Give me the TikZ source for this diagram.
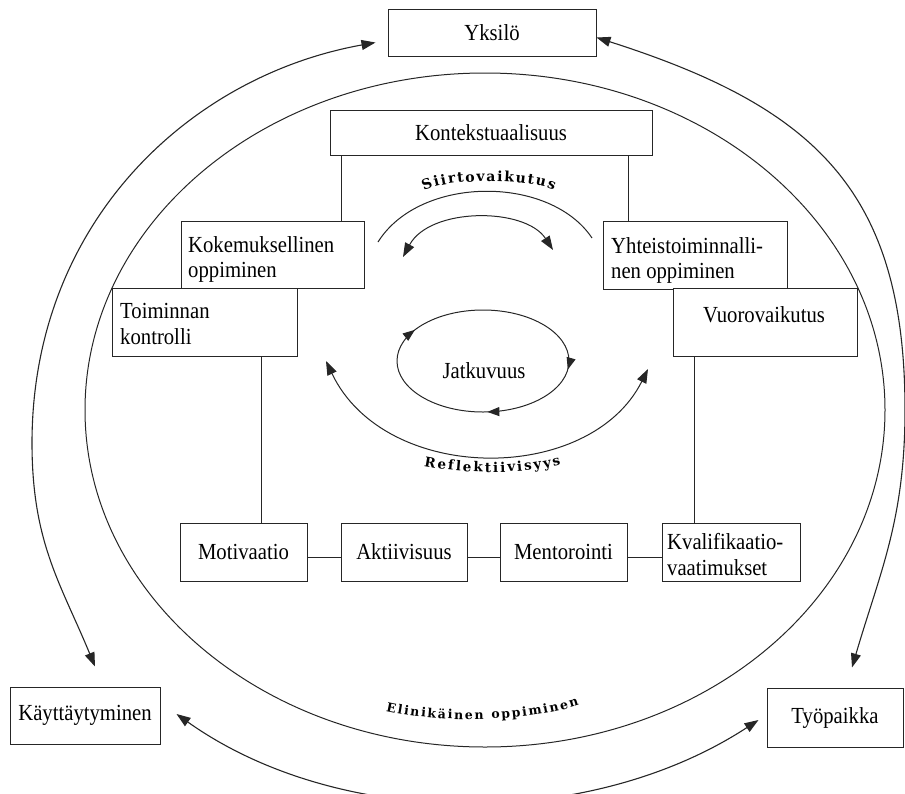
\documentclass[tikz,border=0pt]{standalone}
\usepackage{fontspec}
\setmainfont{Liberation Serif}[FakeStretch=0.9]
\newfontfamily\arcfont{DejaVu Serif}
\usetikzlibrary{arrows.meta,decorations.text,decorations.markings}

\tikzset{
  frame/.style={draw=black!85, line width=1pt, fill=white, inner sep=0pt},
  wire/.style={draw=black!85, line width=1pt},
  flow/.style={draw=black!85, line width=1.1pt,
    {Triangle[length=14pt,width=10pt]}-{Triangle[length=14pt,width=10pt]}},
  txt/.style={inner sep=0pt, align=left},
  arclabel/.style 2 args={decorate, decoration={text along path,
    text align={fit to path},
    text={|\arcfont\bfseries\fontsize{#2}{#2}\selectfont|#1}}},
}

\begin{document}
\begin{tikzpicture}[x=1pt,y=-1pt, font=\fontsize{23}{25.5}\selectfont]
\useasboundingbox (0,0) rectangle (905,793);
\clip (0,0) rectangle (905,793);

% the large enclosing ellipse
\draw[wire] (485,410) ellipse [x radius=400, y radius=337];

% boxes
\node[frame, minimum width=208pt, minimum height=47pt] (yks) at (492,32.5) {Yksilö};
\node[frame, minimum width=322pt, minimum height=45pt] (kon) at (491,132.5) {Kontekstuaalisuus};
\node[frame, minimum width=183pt, minimum height=67pt] (kok) at (272.5,254.5) {};
\node[frame, minimum width=185pt, minimum height=68pt] (toim) at (204.5,322) {};
\node[frame, minimum width=184pt, minimum height=68pt] (yht) at (695,255) {};
\node[frame, minimum width=184pt, minimum height=68pt] (vuo) at (765,322) {};
\node[frame, minimum width=127pt, minimum height=58pt] (mot) at (243.5,552) {Motivaatio};
\node[frame, minimum width=126pt, minimum height=58pt] (akt) at (404,552) {Aktiivisuus};
\node[frame, minimum width=127pt, minimum height=58pt] (men) at (563.5,552) {Mentorointi};
\node[frame, minimum width=138pt, minimum height=58pt] (kval) at (731,552) {};
\node[frame, minimum width=150pt, minimum height=57pt] (kayt) at (85,715.5) {Käyttäytyminen};
\node[frame, minimum width=136pt, minimum height=59pt] (tyo) at (835,717.5) {Työpaikka};

% box texts (anchored at the baseline of the last line)
\node[txt, anchor=base west] (kokt) at (188,277.5) {Kokemuksellinen\\oppiminen};
\node[txt, anchor=base west] (toimt) at (120,344) {Toiminnan\\kontrolli};
\node[txt, anchor=base west] (yhtt) at (611,278.5) {Yhteistoiminnalli-\\nen oppiminen};
\node[txt, anchor=base] (vuot) at (764,322) {Vuorovaikutus};
\node[txt, anchor=base west] (kvalt) at (667,575) {Kvalifikaatio-\\vaatimukset};

% straight links
\coordinate (kl) at ([xshift=12pt]kon.south west);
\coordinate (kr) at ([xshift=-24pt]kon.south east);
\coordinate (tl) at ([xshift=-36pt]toim.south east);
\coordinate (vl) at ([xshift=22pt]vuo.south west);
\draw[wire] (kl) -- (kl |- kok.north);
\draw[wire] (kr) -- (kr |- yht.north);
\draw[wire] (tl) -- (tl |- mot.north);
\draw[wire] (vl) -- (vl |- kval.north);
\draw[wire] ([yshift=-5pt]mot.east) -- ([yshift=-5pt]akt.west);
\draw[wire] ([yshift=-5pt]akt.east) -- ([yshift=-5pt]men.west);
\draw[wire] ([yshift=-5pt]men.east) -- ([yshift=-5pt]kval.west);

% outer curved arrows
\coordinate (wl) at (32,443);
\coordinate (wr) at (905,410);
\draw[flow] ([xshift=-12pt,yshift=-10pt]yks.west)
  .. controls (189,76) and (32,223) .. (wl)
  .. controls (32,543) and (61,584) .. ([xshift=10pt,yshift=20pt]kayt.north);
\draw[flow] ([yshift=-5pt]yks.east)
  .. controls (814,107) and (905,190) .. (wr)
  .. controls (905,520) and (880,572) .. ([xshift=17pt,yshift=20pt]tyo.north);
\draw[flow] ([xshift=16pt,yshift=1.5pt]kayt.east)
  .. controls (340,830) and (590,830) .. ([xshift=-8pt,yshift=-2.5pt]tyo.west);

% Siirtovaikutus arcs
\coordinate (sa) at (378,242);
\coordinate (sb) at (592,238);
\coordinate (ta) at (403,257);
\coordinate (tb) at (553,250);
\draw[wire] (sa) .. controls (420,175) and (550,175) .. (sb);
\draw[flow, line width=1pt] (ta) .. controls (430,207) and (525,207) .. (tb);
\path[arclabel={Siirtovaikutus}{14}] (424,191) .. controls (448,178) and (528,178) .. (554,190);

% Reflektiivisyys arc
\coordinate (ra) at (326,361);
\coordinate (rb) at (648,369);
\draw[flow, line width=1pt] (ra) .. controls (385,485) and (590,485) .. (rb);
\path[arclabel={Reflektiivisyys}{13.5}] (424,466) .. controls (465,474) and (525,475) .. (561,464);

% Jatkuvuus cycle
\draw[wire, postaction={decorate}, decoration={markings,
    mark=at position 0.02 with {\arrow{Triangle[length=12pt,width=9pt]}},
    mark=at position 0.24 with {\arrow{Triangle[length=12pt,width=9pt]}},
    mark=at position 0.585 with {\arrow{Triangle[length=12pt,width=9pt]}}}]
  (483,361) ellipse [x radius=86, y radius=51];
\node (jat) at (484,371) {Jatkuvuus};

% Elinikäinen oppiminen label
\path[arclabel={Elinikäinen oppiminen}{12.5}] (386,711) .. controls (440,723) and (525,723) .. (579,705);
\end{tikzpicture}
\end{document}
